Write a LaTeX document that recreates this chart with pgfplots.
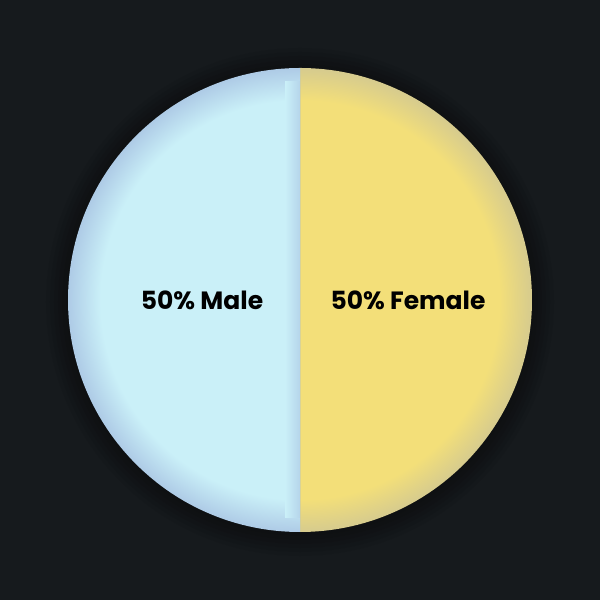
\documentclass[border=0pt]{standalone}
\usepackage{pgfplots}
\pgfplotsset{compat=1.18}
\usepackage{pgfplotstable}
\usepackage{fontspec}
\setmainfont{Poppins}
\definecolor{bg}{HTML}{161A1D}
\definecolor{maleC}{HTML}{CAF0F8}
\definecolor{maleE}{HTML}{AECBE6}
\definecolor{femC}{HTML}{F3DF79}
\definecolor{femE}{HTML}{D6CB8E}
\pgfdeclareradialshading{maleshade}{\pgfpoint{0bp}{0bp}}{color(0bp)=(maleC);color(21.5bp)=(maleC);color(25bp)=(maleE);color(50bp)=(maleE)}
\pgfdeclareradialshading{femshade}{\pgfpoint{0bp}{0bp}}{color(0bp)=(femC);color(21.5bp)=(femC);color(25bp)=(femE);color(50bp)=(femE)}
\pgfplotstableread{
label value
Male 50
Female 50
}\piedata
\pgfplotstablegetelem{0}{value}\of\piedata \let\vA\pgfplotsretval
\pgfplotstablegetelem{1}{value}\of\piedata \let\vB\pgfplotsretval
\pgfmathsetmacro\frA{\vA/(\vA+\vB)}
\pgfmathsetmacro\aStart{90}
\pgfmathsetmacro\aMid{90+360*\frA}
\pgfmathsetmacro\aEnd{450}
\pgfmathsetmacro\mA{(\aStart+\aMid)/2}
\pgfmathsetmacro\mB{(\aMid+\aEnd)/2}
\pgfmathsetmacro\R{232}
\begin{document}
\begin{tikzpicture}
\begin{axis}[
  x=1bp, y=1bp,
  xmin=-300, xmax=300, ymin=-300, ymax=300,
  hide axis, clip=false,
  scale only axis,
]
\fill[bg] (axis cs:-300,-300) rectangle (axis cs:300,300);
% soft shadow
\pgfplotsinvokeforeach{234,238,242,246,250,254}{
  \fill[black, opacity=0.05] (axis cs:0,-2) circle[radius=#1bp];
}
% Male slice
\begin{scope}
\clip (axis cs:0,0) -- (axis cs:{\R*cos(\aStart)},{\R*sin(\aStart)}) arc[start angle=\aStart, end angle=\aMid, radius=232bp] -- cycle;
\fill[shading=maleshade] (axis cs:0,0) circle[radius=232bp];
\fill[left color=maleC, right color=maleE!75!maleC, shading=axis] (axis cs:-15,-218) rectangle (axis cs:0,218);
\end{scope}
% Female slice
\begin{scope}
\clip (axis cs:0,0) -- (axis cs:{\R*cos(\aMid)},{\R*sin(\aMid)}) arc[start angle=\aMid, end angle=\aEnd, radius=232bp] -- cycle;
\fill[shading=femshade] (axis cs:0,0) circle[radius=232bp];
\end{scope}
\draw[femE!70!maleE, line width=0.6bp, opacity=0.6] (axis cs:0,-232) -- (axis cs:0,232);
\node[font=\fontsize{25bp}{28bp}\selectfont\bfseries, text=black] at (axis cs:{98*cos(\mA)},{98*sin(\mA)}) {50\% Male};
\node[font=\fontsize{25bp}{28bp}\selectfont\bfseries, text=black] at (axis cs:{108*cos(\mB)},{108*sin(\mB)}) {50\% Female};
\end{axis}
\end{tikzpicture}
\end{document}
